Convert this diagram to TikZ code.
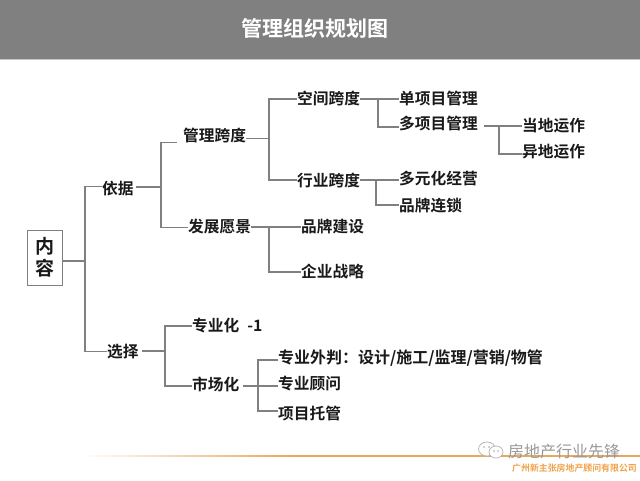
\documentclass[tikz,border=0pt]{standalone}
\usepackage{fontspec}
\setmainfont{Noto Sans CJK SC}[BoldFont={Noto Sans CJK SC Bold}]
\definecolor{rule}{HTML}{E8A95C}
\definecolor{firmc}{HTML}{F0A24A}
\begin{document}
\begin{tikzpicture}[x=1pt,y=-1pt,
  lab/.style={font=\fontsize{15.7}{17}\selectfont\bfseries,text=black!90,inner sep=0pt,anchor=west,yshift=-0.5pt},
  conn/.style={draw=black!50,line width=1.1pt},
  bubble/.style={draw=black!28,fill=white,line width=0.8pt}]
\useasboundingbox (0,0) rectangle (640,480);
\fill[black!50] (0,0) rectangle (640,59);
\fill[black!22] (0,59) rectangle (640,60);
\node[font=\fontsize{21}{23}\selectfont\bfseries,text=white,inner sep=0pt] (title) at (315,28) {管理组织规划图};
\node[draw=black!50,line width=1pt,minimum width=35.5pt,minimum height=55pt,inner sep=0pt,align=center,font=\fontsize{19}{21}\selectfont\bfseries,text=black!90] (root) at (45.2,257.5) {内\\[0.5pt]容};
\node[lab] (yiju) at (102,188) {依据};
\node[lab] (xuanze) at (107,351) {选择};
\node[lab] (guanli) at (183,135) {管理跨度};
\node[lab] (fazhan) at (188,226) {发展愿景};
\node[lab] (kongjian) at (297,98) {空间跨度};
\node[lab] (hangye) at (297,180) {行业跨度};
\node[lab] (pinpaijs) at (301,226) {品牌建设};
\node[lab] (qiye) at (301,271) {企业战略};
\node[lab] (dan) at (399,98) {单项目管理};
\node[lab] (duo) at (399,123) {多项目管理};
\node[lab] (dangdi) at (522,125) {当地运作};
\node[lab] (yidi) at (522,151) {异地运作};
\node[lab] (duoyuan) at (399,178) {多元化经营};
\node[lab] (liansuo) at (399,205) {品牌连锁};
\node[lab] (zhuanye) at (192,325) {专业化\hspace{8pt}-1};
\node[lab] (shichang) at (192,384) {市场化};
\node[lab,font=\fontsize{16}{17}\selectfont\bfseries] (waipan) at (278,358) {专业外判：设计/施工/监理/营销/物管};
\node[lab] (guwen) at (278,383) {专业顾问};
\node[lab] (tuoguan) at (278,413) {项目托管};
% connectors
\draw[conn] (root.east |- 0,261) -- (85,261);
\draw[conn] (yiju.west |- 0,186.5) -| (85,351.5) -- (xuanze.west |- 0,351.5);
\draw[conn] (yiju.east |- 0,187) ++(2,0) -- (161,187);
\draw[conn] (guanli.west |- 0,142.5) ++(-6,0) -| (161,227.5) -- (fazhan.west |- 0,227.5);
\draw[conn] (guanli.east |- 0,138.5) -- (269,138.5);
\draw[conn] (kongjian.west |- 0,99) -| (269,180) -- (hangye.west |- 0,180);
\draw[conn] (fazhan.east |- 0,227) -- (pinpaijs.west |- 0,227);
\draw[conn] (269,227) |- (qiye.west |- 0,272);
\draw[conn] (kongjian.east |- 0,99) -- (dan.west |- 0,99);
\draw[conn] (378,99) |- (duo.west |- 0,127);
\draw[conn] (duo.east |- 0,126) ++(6,0) -- (dangdi.west |- 0,126);
\draw[conn] (499,126) |- (yidi.west |- 0,154);
\draw[conn] (hangye.east |- 0,180) -- (duoyuan.west |- 0,180);
\draw[conn] (376,180) |- (liansuo.west |- 0,205);
\draw[conn] (xuanze.east |- 0,351) ++(3,0) -- (165,351);
\draw[conn] (zhuanye.west |- 0,326) -| (165,386) -- (shichang.west |- 0,386);
\draw[conn] (shichang.east |- 0,386) ++(3,0) -- (guwen.west |- 0,386);
\draw[conn] (waipan.west |- 0,360) -| (258,411) -- (tuoguan.west |- 0,411);
% footer
\shade[left color=white,right color=rule] (80,455.4) rectangle (290,456.6);
\fill[rule] (290,455.4) rectangle (640,456.6);
\node[font=\fontsize{16}{17}\selectfont,text=black!40,inner sep=0pt,anchor=west] (mark) at (508,451) {房地产行业先锋};
\node[font=\fontsize{8.9}{10}\selectfont\bfseries,text=firmc,inner sep=0pt,anchor=east] (firm) at (637,468) {广州新主张房地产顾问有限公司};
\draw[bubble] (487,449) ellipse (8.5 and 7);
\draw[bubble] (496,452) ellipse (7 and 6);
\fill[black!35] (484,447) circle (0.9) (489,447) circle (0.9) (494,451) circle (0.8) (498,451) circle (0.8);
\end{tikzpicture}
\end{document}
